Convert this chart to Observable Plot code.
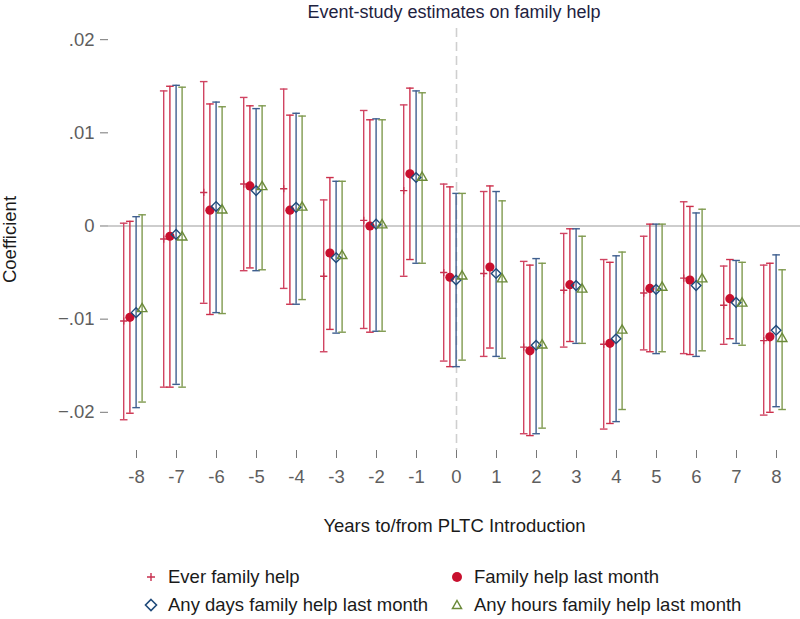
<!DOCTYPE html>
<html>
<head>
<meta charset="utf-8">
<script src="https://cdn.jsdelivr.net/npm/d3@7"></script>
<script src="https://cdn.jsdelivr.net/npm/@observablehq/plot@0.6"></script>
<style>
  html, body { margin: 0; padding: 0; background: #fff; }
  body { width: 800px; height: 619px; overflow: hidden; font-family: "Liberation Sans", Arial, sans-serif; }
  #title { height: 24px; line-height: 24px; padding-left: 108px; text-align: center; font-size: 18px; color: #1e2240; }
  #legend { position: relative; height: 74px; font-size: 18.5px; color: #1a1a1a; }
  .item { position: absolute; display: flex; align-items: center; height: 28px; white-space: nowrap; }
  .item svg { margin-right: 8px; }
</style>
</head>
<body>
<div id="title">Event-study estimates on family help</div>
<div id="chart"></div>
<div id="legend"></div>
<script>
// ---- data ----
const years = [-8,-7,-6,-5,-4,-3,-2,-1,0,1,2,3,4,5,6,7,8];
const yTicks = [-0.02,-0.01,0,0.01,0.02];

const seriesNames = ["Ever family help", "Family help last month", "Any days family help last month", "Any hours family help last month"];
const seriesOffsets = [-0.32, -0.165, -0.01, 0.14];

// Ever family help
const everEst = [-0.0102,-0.0014,0.0036,0.0045,0.0040,-0.0054,0.0006,0.0038,-0.0050,-0.0051,-0.0130,-0.0069,-0.0127,-0.0072,-0.0056,-0.0085,-0.0123];
const everLo  = [-0.0208,-0.0173,-0.0083,-0.0048,-0.0067,-0.0135,-0.0110,-0.0054,-0.0145,-0.0140,-0.0223,-0.0130,-0.0218,-0.0133,-0.0137,-0.0127,-0.0203];
const everHi  = [0.0003,0.0145,0.0155,0.0138,0.0147,0.0028,0.0124,0.0130,0.0045,0.0037,-0.0038,-0.0008,-0.0036,-0.0011,0.0026,-0.0043,-0.0042];

// Family help last month
const lastEst = [-0.0098,-0.0011,0.0017,0.0043,0.0017,-0.0029,0.0000,0.0056,-0.0055,-0.0044,-0.0134,-0.0063,-0.0126,-0.0067,-0.0058,-0.0078,-0.0119];
const lastLo  = [-0.0201,-0.0173,-0.0095,-0.0045,-0.0084,-0.0111,-0.0114,-0.0036,-0.0151,-0.0131,-0.0225,-0.0124,-0.0212,-0.0135,-0.0138,-0.0121,-0.0200];
const lastHi  = [0.0005,0.0150,0.0131,0.0129,0.0119,0.0052,0.0114,0.0148,0.0042,0.0043,-0.0042,-0.0003,-0.0039,0.0002,0.0021,-0.0036,-0.0040];

// Any days family help last month
const daysEst = [-0.0093,-0.0009,0.0021,0.0038,0.0020,-0.0034,0.0002,0.0052,-0.0058,-0.0051,-0.0128,-0.0064,-0.0121,-0.0068,-0.0064,-0.0082,-0.0112];
const daysLo  = [-0.0195,-0.0170,-0.0093,-0.0048,-0.0084,-0.0115,-0.0113,-0.0040,-0.0151,-0.0140,-0.0223,-0.0126,-0.0210,-0.0137,-0.0140,-0.0126,-0.0194];
const daysHi  = [0.0010,0.0151,0.0133,0.0126,0.0121,0.0048,0.0115,0.0145,0.0035,0.0037,-0.0035,-0.0003,-0.0032,0.0002,0.0014,-0.0037,-0.0031];

// Any hours family help last month
const hoursEst = [-0.0089,-0.0012,0.0017,0.0042,0.0020,-0.0032,0.0001,0.0052,-0.0054,-0.0057,-0.0128,-0.0068,-0.0112,-0.0066,-0.0057,-0.0083,-0.0121];
const hoursLo  = [-0.0189,-0.0173,-0.0094,-0.0047,-0.0079,-0.0114,-0.0113,-0.0040,-0.0144,-0.0142,-0.0217,-0.0126,-0.0197,-0.0135,-0.0134,-0.0128,-0.0197];
const hoursHi  = [0.0012,0.0149,0.0128,0.0129,0.0118,0.0048,0.0114,0.0143,0.0035,0.0027,-0.0040,-0.0011,-0.0028,0.0002,0.0018,-0.0039,-0.0047];

const xLabel = "Years to/from PLTC Introduction";
const yLabel = "Coefficient";

// ---- styles ----
const barColors = ["#d04462", "#cc2f4b", "#3f5f8f", "#7f9a4f"];
const markColors = ["#c8304f", "#c8102e", "#1f4a7a", "#6b8a3a"];

// custom symbols (pixel space)
const capSym = {draw(c, size) { const r = Math.sqrt(size / Math.PI); c.moveTo(-r, 0); c.lineTo(r, 0); }};
const plusSym = {draw(c, size) { const r = Math.sqrt(size / Math.PI); c.moveTo(-r, 0); c.lineTo(r, 0); c.moveTo(0, -r); c.lineTo(0, r); }};
const diamondSym = {draw(c, size) { const r = Math.sqrt(size / Math.PI); c.moveTo(0, -r); c.lineTo(r, 0); c.lineTo(0, r); c.lineTo(-r, 0); c.closePath(); }};
const triSym = {draw(c, size) { const r = Math.sqrt(size / Math.PI); const h = r * Math.sqrt(3); c.moveTo(0, -h * 2 / 3); c.lineTo(r, h / 3); c.lineTo(-r, h / 3); c.closePath(); }};

const estArrays = [everEst, lastEst, daysEst, hoursEst];
const loArrays = [everLo, lastLo, daysLo, hoursLo];
const hiArrays = [everHi, lastHi, daysHi, hoursHi];

const rows = [];
seriesNames.forEach((name, s) => {
  years.forEach((yr, i) => {
    rows.push({s, name, x: yr + seriesOffsets[s], est: estArrays[s][i], lo: loArrays[s][i], hi: hiArrays[s][i]});
  });
});
const bySeries = s => rows.filter(d => d.s === s);

const fmtY = d => d === 0 ? "0" : d3.format(".2f")(d).replace("0.", ".");

const marks = [
  Plot.ruleY([0], {stroke: "#bdbdbd", strokeWidth: 1.3}),
  Plot.ruleX([0], {stroke: "#cfcfcf", strokeWidth: 1.6, strokeDasharray: "9,5"}),
];
[0,1,2,3].forEach(s => {
  const d = bySeries(s);
  marks.push(Plot.ruleX(d, {x: "x", y1: "lo", y2: "hi", stroke: barColors[s], strokeWidth: 1.4}));
  marks.push(Plot.dot(d, {x: "x", y: "lo", symbol: capSym, r: 3.8, stroke: barColors[s], strokeWidth: 1.4, fill: "none"}));
  marks.push(Plot.dot(d, {x: "x", y: "hi", symbol: capSym, r: 3.8, stroke: barColors[s], strokeWidth: 1.4, fill: "none"}));
});
marks.push(Plot.dot(bySeries(0), {x: "x", y: "est", symbol: plusSym, r: 3.6, stroke: markColors[0], strokeWidth: 1.4, fill: "none"}));
marks.push(Plot.dot(bySeries(1), {x: "x", y: "est", r: 4.6, fill: markColors[1], stroke: "none"}));
marks.push(Plot.dot(bySeries(2), {x: "x", y: "est", symbol: diamondSym, r: 4.8, stroke: markColors[2], strokeWidth: 1.4, fill: "none"}));
marks.push(Plot.dot(bySeries(3), {x: "x", y: "est", symbol: triSym, r: 4.8, stroke: markColors[3], strokeWidth: 1.4, fill: "none"}));

marks.push(Plot.axisX({ticks: years, tickFormat: d => String(d), tickSize: 8, tickPadding: 11, stroke: "#777", color: "#5e5e5e", label: null}));
marks.push(Plot.axisY({ticks: yTicks, tickFormat: fmtY, tickSize: 8, tickPadding: 6, stroke: "#777", color: "#5e5e5e", label: null}));
marks.push(Plot.text([xLabel], {frameAnchor: "bottom", dy: 76, lineAnchor: "middle", textAnchor: "middle", fill: "#1a1a1a", fontSize: 18.5}));
marks.push(Plot.text([yLabel], {frameAnchor: "left", dx: -98, rotate: -90, lineAnchor: "middle", textAnchor: "middle", fill: "#1a1a1a", fontSize: 18.5}));

const chart = Plot.plot({
  width: 800,
  height: 521,
  marginTop: 4,
  marginBottom: 95,
  marginLeft: 108,
  marginRight: 0,
  x: {domain: [-8.7, 8.6]},
  y: {domain: [-0.0241, 0.0212]},
  style: {fontFamily: "'Liberation Sans', Arial, sans-serif", fontSize: "18.5px", color: "#1a1a1a", background: "#fff"},
  marks
});
document.getElementById("chart").appendChild(chart);

// ---- legend ----
const legendPos = [[0, 142, 0], [1, 448, 0], [2, 142, 28], [3, 448, 28]];
const legendSyms = [
  c => `<path d="M5,9H13M9,5V13" stroke="${c}" stroke-width="1.4" fill="none"/>`,
  c => `<circle cx="9" cy="9" r="5" fill="${c}"/>`,
  c => `<path d="M9,3.5L14.5,9L9,14.5L3.5,9Z" stroke="${c}" stroke-width="1.6" fill="none"/>`,
  c => `<path d="M9,4.5L13.5,12.5L4.5,12.5Z" stroke="${c}" stroke-width="1.5" fill="none"/>`
];
const leg = document.getElementById("legend");
legendPos.forEach(([s, x, y]) => {
  const div = document.createElement("div");
  div.className = "item";
  div.style.left = x + "px";
  div.style.top = (18 + y) + "px";
  div.innerHTML = `<svg width="18" height="18">${legendSyms[s](markColors[s])}</svg><span>${seriesNames[s]}</span>`;
  leg.appendChild(div);
});
</script>
</body>
</html>
